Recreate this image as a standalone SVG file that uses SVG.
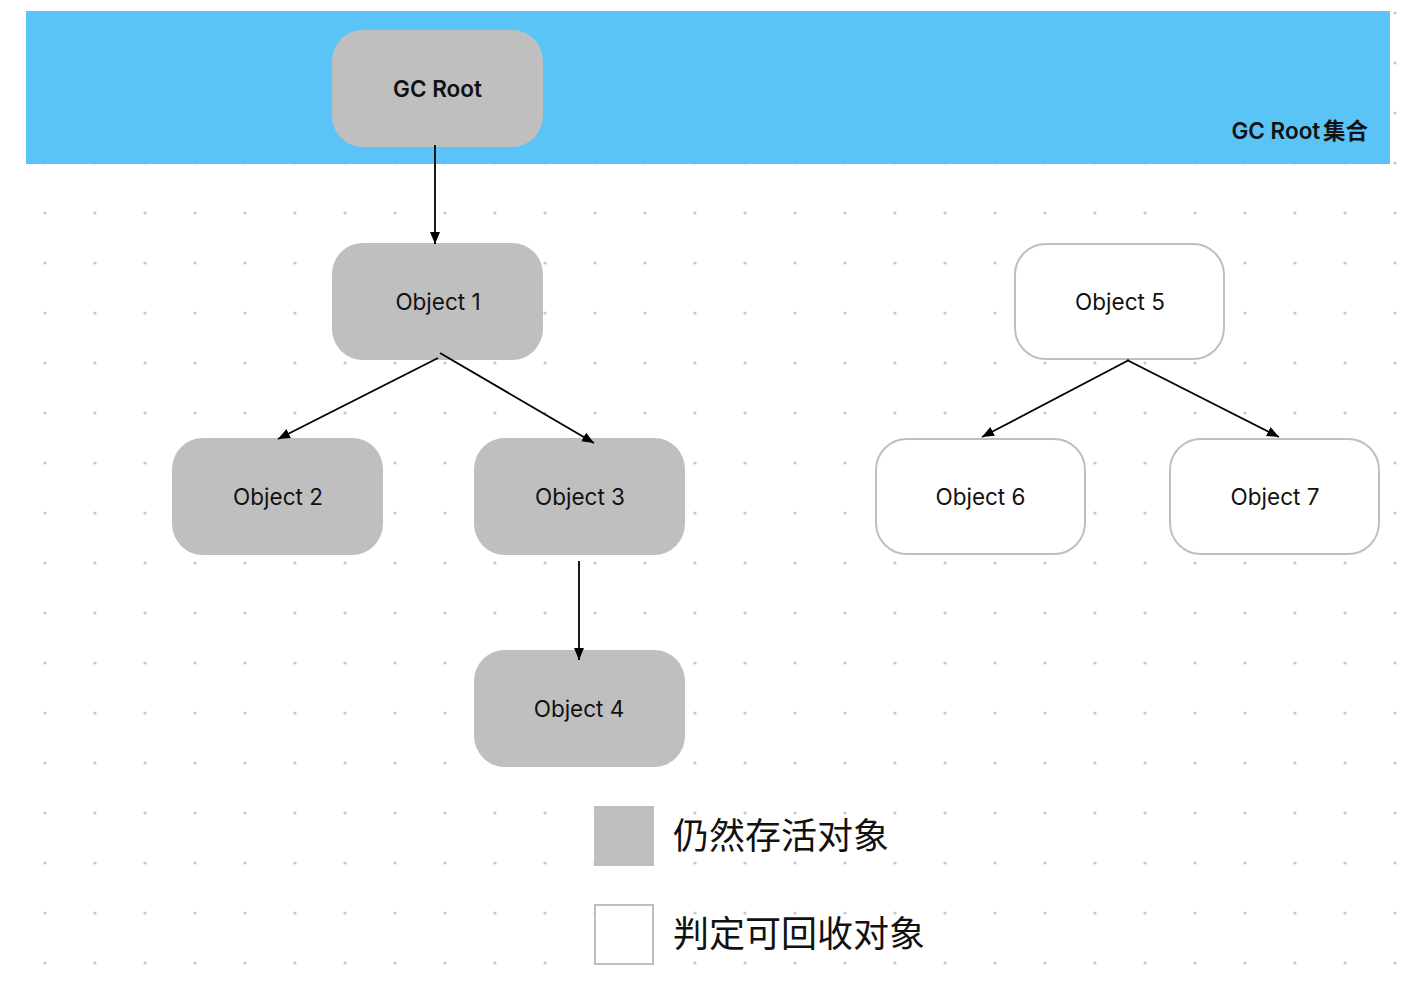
<svg xmlns="http://www.w3.org/2000/svg" width="1417" height="989" viewBox="0 0 1417 989">
<style>
.live{fill:#bfbfbf;}
.dead{fill:#ffffff;stroke:#bfbfbf;stroke-width:2;}
.lbl{font-family:Inter,"Liberation Sans",sans-serif;font-size:22.5px;fill:#111;text-anchor:middle;}
.bold{font-weight:600;}
.cjk{font-family:"Noto Sans CJK SC",sans-serif;font-size:36px;fill:#111;}
.edge{stroke:#000;stroke-width:1.8;fill:none;marker-end:url(#arr);}
</style>
<defs>
<pattern id="dots" x="0" y="0" width="50" height="50" patternUnits="userSpaceOnUse">
<circle cx="45" cy="13" r="1.6" fill="#c6c6c6"/>
</pattern>
<marker id="arr" markerUnits="userSpaceOnUse" markerWidth="14" markerHeight="12" refX="12" refY="5" orient="auto">
<path d="M0,0 L12,5 L0,10 z" fill="#000"/>
</marker>
</defs>
<rect x="0" y="0" width="1417" height="989" fill="#ffffff"/>
<rect x="0" y="0" width="1417" height="989" fill="url(#dots)"/>
<g id="gcroot-set">
<rect x="26" y="11" width="1364" height="153" fill="#5bc4f6"/>
<text class="lbl bold" x="1368" y="139" text-anchor="end" style="text-anchor:end">GC Root <tspan font-family="'Noto Sans CJK SC',sans-serif" dx="-3">集合</tspan></text>
</g>
<g id="gcroot">
<rect class="live" x="332" y="30" width="211" height="117" rx="31"/>
<text class="lbl bold" x="437.5" y="97">GC Root</text>
</g>
<g id="object1">
<rect class="live" x="332" y="243" width="211" height="117" rx="31"/>
<text class="lbl" x="438" y="310">Object 1</text>
</g>
<g id="object2">
<rect class="live" x="172" y="438" width="211" height="117" rx="31"/>
<text class="lbl" x="278" y="505">Object 2</text>
</g>
<g id="object3">
<rect class="live" x="474" y="438" width="211" height="117" rx="31"/>
<text class="lbl" x="580" y="505">Object 3</text>
</g>
<g id="object4">
<rect class="live" x="474" y="650" width="211" height="117" rx="31"/>
<text class="lbl" x="579" y="717">Object 4</text>
</g>
<g id="object5">
<rect class="dead" x="1015" y="244" width="209" height="115" rx="31"/>
<text class="lbl" x="1120" y="310">Object 5</text>
</g>
<g id="object6">
<rect class="dead" x="876" y="439" width="209" height="115" rx="31"/>
<text class="lbl" x="980.5" y="505">Object 6</text>
</g>
<g id="object7">
<rect class="dead" x="1170" y="439" width="209" height="115" rx="31"/>
<text class="lbl" x="1275" y="505">Object 7</text>
</g>
<g id="connectors">
<line class="edge" x1="435" y1="145" x2="435" y2="244"/>
<line class="edge" x1="438" y1="358" x2="278" y2="439"/>
<line class="edge" x1="440" y1="353" x2="594" y2="443"/>
<line class="edge" x1="579" y1="561" x2="579" y2="660"/>
<line class="edge" x1="1129" y1="360" x2="982" y2="437"/>
<line class="edge" x1="1127" y1="360" x2="1279" y2="437"/>
</g>
<g id="legend-live">
<rect class="live" x="594" y="806" width="60" height="60"/>
<text class="cjk" x="673" y="849">仍然存活对象</text>
</g>
<g id="legend-dead">
<rect class="dead" x="595" y="905" width="58" height="59"/>
<text class="cjk" x="673" y="947">判定可回收对象</text>
</g>
</svg>
